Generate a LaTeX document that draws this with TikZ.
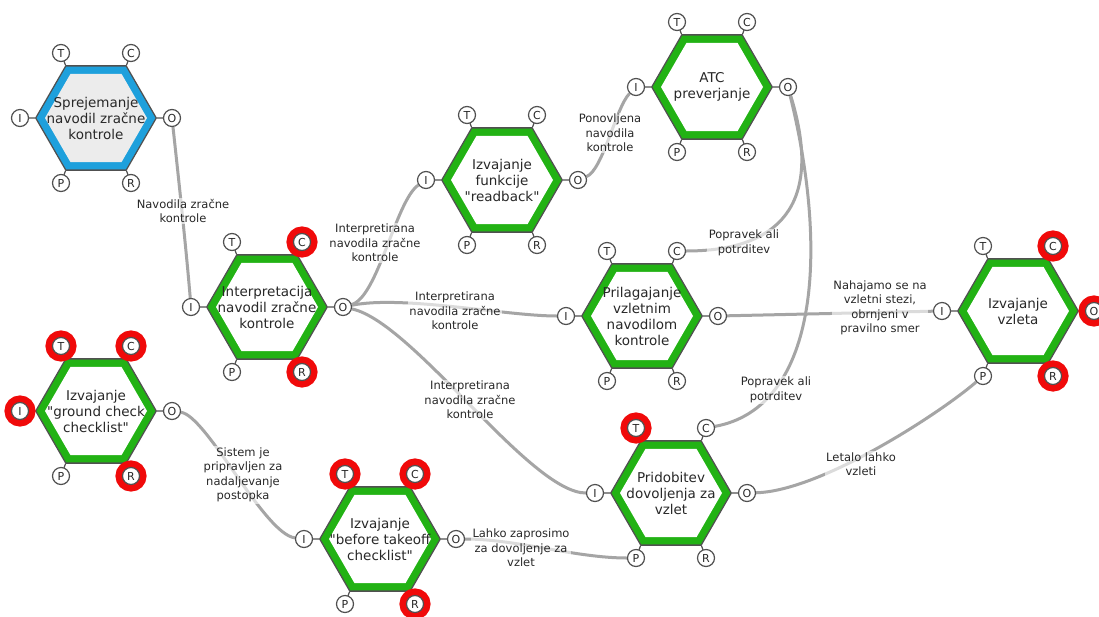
\documentclass[tikz,border=0pt]{standalone}
\usepackage{fontspec}
\setmainfont{DejaVu Sans}[Ligatures=TeXOff]
\usetikzlibrary{backgrounds}

\definecolor{band}{RGB}{34,178,20}
\definecolor{bandblue}{RGB}{30,160,220}
\definecolor{rim}{RGB}{80,80,80}
\definecolor{wire}{RGB}{165,165,165}
\definecolor{ringred}{RGB}{240,10,10}
\definecolor{ink}{RGB}{40,40,40}
\definecolor{paleface}{RGB}{236,236,236}

\tikzset{
  aspect/.style={circle, draw=rim, line width=1.2pt, fill=white, minimum size=17pt,
    inner sep=0pt, font=\fontsize{11}{11}\selectfont, text=ink},
  hotaspect/.style={aspect, preaction={draw=ringred, line width=14pt}},
  ring T/.style={}, ring C/.style={}, ring I/.style={},
  ring O/.style={}, ring P/.style={}, ring R/.style={},
  hot/.code={\tikzset{ring #1/.style={hotaspect}}},
  stub/.style={draw=rim, line width=1.2pt},
  fnlabel/.style={align=center, font=\fontsize{13.5}{16}\selectfont, text=ink, inner sep=0pt},
  wirelabel/.style={align=center, font=\fontsize{11.5}{14.5}\selectfont, text=ink,
    fill=white, fill opacity=0.6, text opacity=1, inner sep=1.5pt},
  wire/.style={draw=wire, line width=3pt},
}

% filled regular hexagon, flat top and bottom: centre x, y, radius, colour
\newcommand\hexfill[4]{%
  \fill[#4] (#1,#2) +(0:#3) -- +(60:#3) -- +(120:#3) -- +(180:#3)
    -- +(240:#3) -- +(300:#3) -- cycle;}

% one function: name, x, y, text, band colour, face colour, scope options
\newcommand\framfn[7]{%
  \begin{scope}[#7]
    \hexfill{#2}{#3}{61}{rim}
    \hexfill{#2}{#3}{59.4}{#5}
    \hexfill{#2}{#3}{51}{#6}
    \draw[stub] (#2-30.5,#3-52.8) -- (#2-35,#3-65)
                (#2+30.5,#3-52.8) -- (#2+35,#3-65)
                (#2-61,#3) -- (#2-76,#3)
                (#2+61,#3) -- (#2+76,#3)
                (#2-30.5,#3+52.8) -- (#2-35,#3+65)
                (#2+30.5,#3+52.8) -- (#2+35,#3+65);
    \node[fnlabel] (#1) at (#2,#3) {#4};
    \node[aspect, ring T] (#1-T) at (#2-35,#3-65) {T};
    \node[aspect, ring C] (#1-C) at (#2+35,#3-65) {C};
    \node[aspect, ring I] (#1-I) at (#2-76,#3) {I};
    \node[aspect, ring O] (#1-O) at (#2+76,#3) {O};
    \node[aspect, ring P] (#1-P) at (#2-35,#3+65) {P};
    \node[aspect, ring R] (#1-R) at (#2+35,#3+65) {R};
  \end{scope}}

\begin{document}
\begin{tikzpicture}[x=1pt,y=-1pt]
\useasboundingbox (0,0) rectangle (1099,616);

\framfn{h1}{96}{118}{Sprejemanje\\navodil zračne\\kontrole}{bandblue}{paleface}{}
\framfn{h2}{267}{307}{Interpretacija\\navodil zračne\\kontrole}{band}{white}{hot/.list={C,R}}
\framfn{h3}{502}{180}{Izvajanje\\funkcije\\"readback"}{band}{white}{}
\framfn{h4}{712}{87}{ATC\\preverjanje}{band}{white}{}
\framfn{h5}{642}{316}{Prilagajanje\\vzletnim\\navodilom\\kontrole}{band}{white}{}
\framfn{h6}{1018}{311}{Izvajanje\\vzleta}{band}{white}{hot/.list={C,O,R}}
\framfn{h7}{96}{411}{Izvajanje\\"ground check\\checklist"}{band}{white}{hot/.list={T,C,I,R}}
\framfn{h8}{380}{539}{Izvajanje\\"before takeoff\\checklist"}{band}{white}{hot/.list={T,C,R}}
\framfn{h9}{671}{493}{Pridobitev\\dovoljenja za\\vzlet}{band}{white}{hot/.list={T}}

% couplings between functions
\begin{pgfonlayer}{background}
  \fill[white] (0,0) rectangle (1099,616);
  \draw[wire] (h1-O) .. controls +(6,55) and +(-5,-60) .. (h2-I);
  \draw[wire] (h2-O) .. controls +(35,-10) and +(-30,20) .. (h3-I);
  \draw[wire] (h2-O) .. controls +(60,-12) and +(-60,0) .. (h5-I);
  \draw[wire] (h2-O) .. controls +(70,15) and +(-65,0) .. (h9-I);
  \draw[wire] (h3-O) .. controls +(25,-10) and +(-20,20) .. (h4-I);
  \draw[wire] (h4-O) .. controls +(37,120) and +(100,0) .. (h5-C);
  \draw[wire] (h4-O) .. controls +(42,170) and +(110,-20) .. (h9-C);
  \draw[wire] (h5-O) -- (h6-I);
  \draw[wire] (h7-O) .. controls +(35,5) and +(-40,-5) .. (h8-I);
  \draw[wire] (h8-O) .. controls +(60,0) and +(-60,0) .. (h9-P);
  \draw[wire] (h9-O) .. controls +(75,-2) and +(-40,35) .. (h6-P);
\end{pgfonlayer}

% coupling labels
\node[wirelabel] (l1) at (183,211) {Navodila zračne\\kontrole};
\node[wirelabel] (l2) at (375,243) {Interpretirana\\navodila zračne\\kontrole};
\node[wirelabel] (l3) at (455,311) {Interpretirana\\navodila zračne\\kontrole};
\node[wirelabel] (l4) at (470,400) {Interpretirana\\navodila zračne\\kontrole};
\node[wirelabel] (l5) at (610,133) {Ponovljena\\navodila\\kontrole};
\node[wirelabel] (l6) at (744,243) {Popravek ali\\potrditev};
\node[wirelabel] (l7) at (776,390) {Popravek ali\\potrditev};
\node[wirelabel] (l8) at (880,308) {Nahajamo se na\\vzletni stezi,\\obrnjeni v\\pravilno smer};
\node[wirelabel] (l9) at (243,475) {Sistem je\\pripravljen za\\nadaljevanje\\postopka};
\node[wirelabel] (l10) at (521,548) {Lahko zaprosimo\\za dovoljenje za\\vzlet};
\node[wirelabel] (l11) at (861,464) {Letalo lahko\\vzleti};
\end{tikzpicture}
\end{document}
